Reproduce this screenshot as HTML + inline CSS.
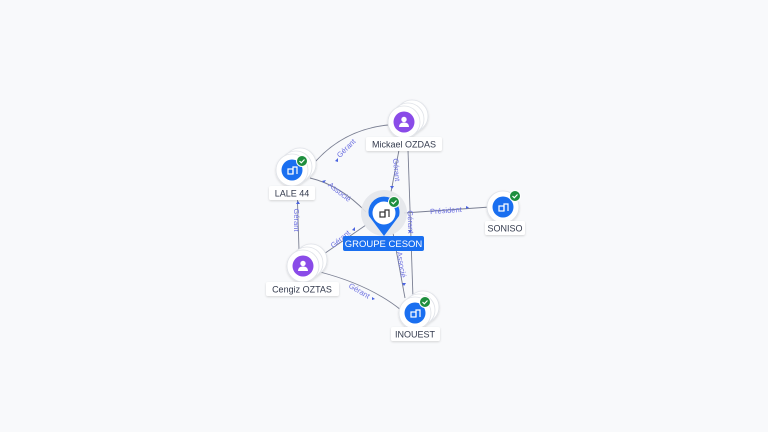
<!DOCTYPE html>
<html><head><meta charset="utf-8"><style>
html,body{margin:0;padding:0;background:#f8f9fb;}
svg{display:block;font-family:"Liberation Sans",sans-serif;}
.lbl{font-size:9px;fill:#333a4d;}
.el{font-size:7.5px;fill:#6a6ee0;}
</style></head><body>
<svg width="768" height="432" viewBox="0 0 768 432">
<defs>
<filter id="sh" x="-50%" y="-50%" width="200%" height="200%"><feDropShadow dx="0" dy="1" stdDeviation="1" flood-color="#000" flood-opacity="0.15"/></filter>
<g id="bld"><rect x="-4" y="-2" width="5" height="5" fill="none" stroke="#fff" stroke-width="1.2"/><path d="M1 3 V-4 H5 V3" fill="none" stroke="#fff" stroke-width="1.2"/></g>
<g id="chk"><circle r="5.5" fill="#1e8e3e" stroke="#fff" stroke-width="1"/><path d="M-2.5 0 L-0.7 1.8 L2.5 -1.5" fill="none" stroke="#fff" stroke-width="1.2"/></g>
<g id="per"><circle cy="-2.5" r="2.7" fill="#fff"/><path d="M-5 5 Q-5 0.5 0 0.5 Q5 0.5 5 5 Z" fill="#fff"/></g>
</defs>
<g fill="none" stroke="#7a7f92" stroke-width="0.9">
<path d="M388 125 Q340 130 310 168"/>
<path d="M399 150 L391 192"/>
<path d="M408 150 L413 298"/>
<path d="M366 212 Q340 185 310 178"/>
<path d="M404 213 L490 207"/>
<path d="M393 233 L405 298"/>
<path d="M299 250 L297 186"/>
<path d="M318 258 L366 225"/>
<path d="M320 272 Q370 285 401 310"/>
</g>
<g fill="#4a63e0">
<path d="M335 161 l3 -3 l0 4z"/><path d="M390 186 l2 3 l2 -3z"/><path d="M408 230 l2 3 l2 -3z"/>
<path d="M322 181 l4 -1 l-2 3z"/><path d="M466 206 l3 1.5 l-3 1.5z"/><path d="M402 283 l2 3 l2 -3z"/>
<path d="M296 204 l2 -3 l2 3z"/><path d="M352 230 l3 -3 l0 4z"/><path d="M372 297 l3 2 l-3 1z"/>
</g>
<text class="el" transform="translate(348 150) rotate(-45)" text-anchor="middle">Gérant</text>
<text class="el" transform="translate(394 170) rotate(85)" text-anchor="middle">Gérant</text>
<text class="el" transform="translate(408 222) rotate(88)" text-anchor="middle">Gérant</text>
<text class="el" transform="translate(338 194) rotate(38)" text-anchor="middle">Associé</text>
<text class="el" transform="translate(446 213) rotate(-4)" text-anchor="middle">Président</text>
<text class="el" transform="translate(399 265) rotate(80)" text-anchor="middle">Associé</text>
<text class="el" transform="translate(294 220) rotate(90)" text-anchor="middle">Gérant</text>
<text class="el" transform="translate(342 241) rotate(-40)" text-anchor="middle">Gérant</text>
<text class="el" transform="translate(358 293) rotate(30)" text-anchor="middle">Gérant</text>

<g stroke="#dfe2e8" stroke-width="0.8">
<g filter="url(#sh)"><circle cx="412" cy="116" r="16" fill="#fff"/><circle cx="408" cy="119" r="16" fill="#fff"/><circle cx="404" cy="122" r="16" fill="#fff"/></g>
<g filter="url(#sh)"><circle cx="300" cy="164" r="16" fill="#fff"/><circle cx="296" cy="167" r="16" fill="#fff"/><circle cx="292" cy="170" r="16" fill="#fff"/></g>
<circle cx="503" cy="207" r="16" fill="#fff" filter="url(#sh)"/>
<g filter="url(#sh)"><circle cx="311" cy="260" r="16" fill="#fff"/><circle cx="307" cy="263" r="16" fill="#fff"/><circle cx="303" cy="266" r="16" fill="#fff"/></g>
<g filter="url(#sh)"><circle cx="423" cy="307" r="16" fill="#fff"/><circle cx="419" cy="310" r="16" fill="#fff"/><circle cx="415" cy="313" r="16" fill="#fff"/></g>
</g>

<circle cx="404" cy="122" r="10.5" fill="#8a4be8"/><use href="#per" x="404" y="122"/>
<rect x="366" y="137" width="76" height="14" rx="2" fill="#fff" filter="url(#sh)"/><text class="lbl" x="404" y="147.5" text-anchor="middle">Mickael OZDAS</text>

<circle cx="292" cy="170" r="10.5" fill="#1a6ff0"/><use href="#bld" x="292" y="171"/><use href="#chk" x="302" y="161"/>
<rect x="269" y="186" width="46" height="14" rx="2" fill="#fff" filter="url(#sh)"/><text class="lbl" x="292" y="196.5" text-anchor="middle">LALE 44</text>

<circle cx="503" cy="207" r="10.5" fill="#1a6ff0"/><use href="#bld" x="503" y="208"/><use href="#chk" x="515" y="196"/>
<rect x="485" y="221" width="40" height="14" rx="2" fill="#fff" filter="url(#sh)"/><text class="lbl" x="505" y="231.5" text-anchor="middle">SONISO</text>

<circle cx="303" cy="266" r="10.5" fill="#8a4be8"/><use href="#per" x="303" y="266"/>
<rect x="266" y="282" width="73" height="14" rx="2" fill="#fff" filter="url(#sh)"/><text class="lbl" x="302" y="292.5" text-anchor="middle">Cengiz OZTAS</text>

<circle cx="415" cy="313" r="10.5" fill="#1a6ff0"/><use href="#bld" x="415" y="314"/><use href="#chk" x="425" y="302"/>
<rect x="391" y="327" width="49" height="14" rx="2" fill="#fff" filter="url(#sh)"/><text class="lbl" x="415" y="337.5" text-anchor="middle">INOUEST</text>

<circle cx="384" cy="213" r="23" fill="#e3e5ea" opacity="0.9"/>
<path d="M369 216 A15.5 15.5 0 1 1 399 216 L384 236 Z" fill="#1a6ff0"/>
<circle cx="384" cy="213" r="11.5" fill="#fff"/>
<g transform="translate(384 214)"><rect x="-4" y="-2" width="5" height="5" fill="none" stroke="#333" stroke-width="1.2"/><path d="M1 3 V-4 H5 V3" fill="none" stroke="#333" stroke-width="1.2"/></g>
<use href="#chk" x="394" y="202"/>
<rect x="343" y="236" width="81" height="15" rx="2" fill="#1a6ff0"/><text x="383.5" y="247" text-anchor="middle" style="font-size:9.5px;fill:#fff">GROUPE CESON</text>
</svg>
</body></html>
